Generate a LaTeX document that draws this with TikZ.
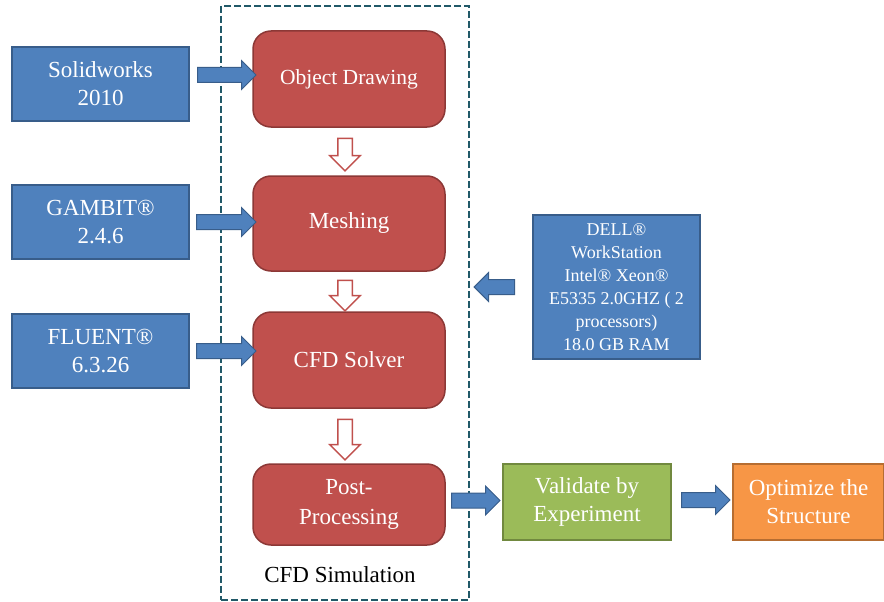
\documentclass[tikz,border=0pt]{standalone}
\usepackage{fontspec}
\setmainfont{Liberation Serif}
\usetikzlibrary{shapes.arrows,calc}
\definecolor{boxblue}{HTML}{4F81BD}
\definecolor{lineblue}{HTML}{385D8A}
\definecolor{boxred}{HTML}{C0504D}
\definecolor{linered}{HTML}{8C3836}
\definecolor{boxgreen}{HTML}{9BBB59}
\definecolor{linegreen}{HTML}{71893F}
\definecolor{boxorange}{HTML}{F79646}
\definecolor{lineorange}{HTML}{B66D31}
\definecolor{frameteal}{HTML}{215968}
\tikzset{
  base/.style={draw, line width=1.5pt, text=white, align=center, inner sep=0pt,
    font=\fontsize{23}{28}\selectfont},
  tool/.style={base, fill=boxblue, draw=lineblue, minimum width=177pt, minimum height=74pt},
  stage/.style={base, fill=boxred, draw=linered, rounded corners=18pt, minimum width=192pt},
  result/.style={base, minimum height=76pt},
  simframe/.style={draw=frameteal, dashed, dash pattern=on 7pt off 3pt, line width=1.6pt, inner sep=0pt},
  toolarrow/.style={single arrow, draw=lineblue, fill=boxblue, line width=1pt, inner xsep=0pt,
    inner ysep=7pt, single arrow head extend=7pt, minimum width=0pt},
  steparrow/.style={single arrow, draw=boxred, fill=white, line width=1.5pt, inner xsep=0pt,
    inner ysep=6.5pt, single arrow head extend=8pt, minimum width=0pt}
}
\newcommand{\flowarrow}[3]{\path let \p1=(#2), \p2=(#3), \n1={veclen(\x2-\x1,\y2-\y1)},
  \n2={atan2(\y2-\y1,\x2-\x1)} in node[#1, minimum height=\n1, rotate=\n2] at ($(\p1)!0.5!(\p2)$) {};}
\begin{document}
\begin{tikzpicture}[x=1pt, y=-1pt]
\useasboundingbox (0,0) rectangle (884,602);
\node[simframe, minimum width=248pt, minimum height=594pt] (sim) at (345,303) {};
\node[tool] (sw) at (100.5,84) {Solidworks\\2010};
\node[tool] (gambit) at (100.5,222) {GAMBIT®\\2.4.6};
\node[tool] (fluent) at (100.5,351) {FLUENT®\\6.3.26};
\node[stage, minimum height=96pt, font=\fontsize{21.5}{26}\selectfont] (objdraw) at (349,79) {Object Drawing};
\node[stage, minimum height=95pt] (mesh) at (349,223.5) {Meshing};
\node[stage, minimum height=96pt] (solver) at (349,360) {CFD Solver};
\node[stage, minimum height=81pt, font=\fontsize{23}{30}\selectfont] (post) at (349,504.5) {Post-\\Processing};
\node[base, fill=boxblue, draw=lineblue, minimum width=167pt, minimum height=144pt,
  font=\fontsize{18}{23}\selectfont] (dell) at (616.5,287)
  {DELL®\\WorkStation\\Intel® Xeon®\\E5335 2.0GHZ ( 2\\processors)\\18.0 GB RAM};
\node[result, fill=boxgreen, draw=linegreen, minimum width=168pt] (valid) at (587,502) {Validate by\\Experiment};
\node[result, fill=boxorange, draw=lineorange, minimum width=151pt] (optim) at (808.5,502) {Optimize the\\Structure};
\node[font=\fontsize{23}{28}\selectfont] (simlabel) at (340,575) {CFD Simulation};
\flowarrow{toolarrow}{$(sw.east |- objdraw.west)+(4,-4)$}{$(objdraw.west)+(0,-4)$}
\flowarrow{toolarrow}{$(gambit.east)+(3,0)$}{gambit.east -| mesh.west}
\flowarrow{toolarrow}{$(fluent.east)+(3,0)$}{fluent.east -| solver.west}
\flowarrow{toolarrow}{$(dell.west)+(-14,0)$}{$(dell.west -| sim.east)+(8,0)$}
\flowarrow{toolarrow}{$(post.east)+(2,-4)$}{$(post.east -| valid.west)+(-6,-4)$}
\flowarrow{toolarrow}{$(valid.east)+(6,-2)$}{$(optim.west)+(-6,-2)$}
\flowarrow{steparrow}{$(objdraw.south)+(-4,7)$}{$(mesh.north)+(-4,-8)$}
\flowarrow{steparrow}{$(mesh.south)+(-4,5)$}{$(solver.north)+(-4,-4)$}
\flowarrow{steparrow}{$(solver.south)+(-4,7)$}{$(post.north)+(-4,-7)$}
\end{tikzpicture}
\end{document}
